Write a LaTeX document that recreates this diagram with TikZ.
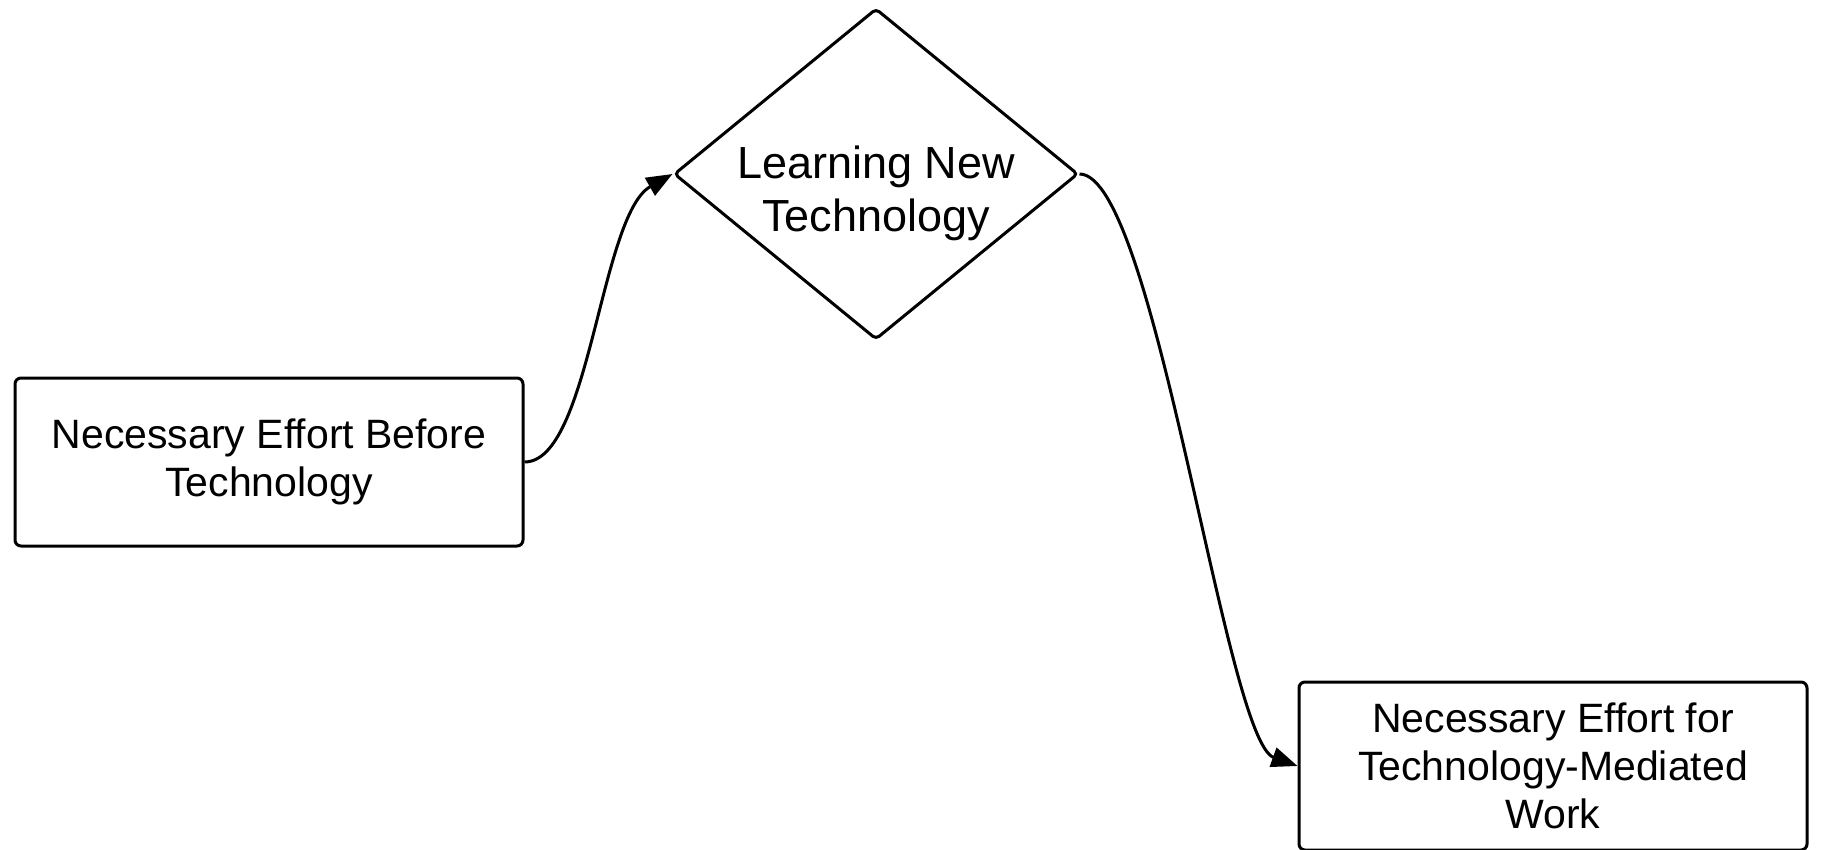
\documentclass[tikz,border=0pt]{standalone}
\usepackage{fontspec}
\setmainfont{Liberation Sans}
\usetikzlibrary{shapes.geometric,arrows.meta}

\begin{document}
\begin{tikzpicture}[
		x=1pt, y=-1pt,
		every node/.style={font=\fontsize{41}{48}\selectfont, align=center},
		effortbox/.style={draw, line width=3pt, rounded corners=6pt,
			minimum width=508pt, minimum height=168pt, inner sep=0pt},
		decision/.style={draw, diamond, line width=3pt, rounded corners=4pt,
			minimum width=404pt, minimum height=331pt, inner sep=0pt},
		flow/.style={line width=3pt, -{Triangle[length=26pt,width=20pt]}}
		]
		\useasboundingbox (0,0) rectangle (1822,850);
		\node[effortbox] (before) at (269,462) {Necessary Effort Before\\Technology};
		\node[decision, label={[yshift=-19pt, font=\fontsize{45}{53}\selectfont]center:Learning New\\Technology}] (learn) at (876,174) {};
		\node[effortbox] (mediated) at (1553,766) {Necessary Effort for\\Technology-Mediated\\Work};
		
		\draw[flow] (before.east) .. controls (590,462) and (600,215) .. (learn.west);
		\draw[flow] (learn.east) .. controls (1155,174) and (1225,740) .. (mediated.west);
		\end{tikzpicture}
\end{document}
